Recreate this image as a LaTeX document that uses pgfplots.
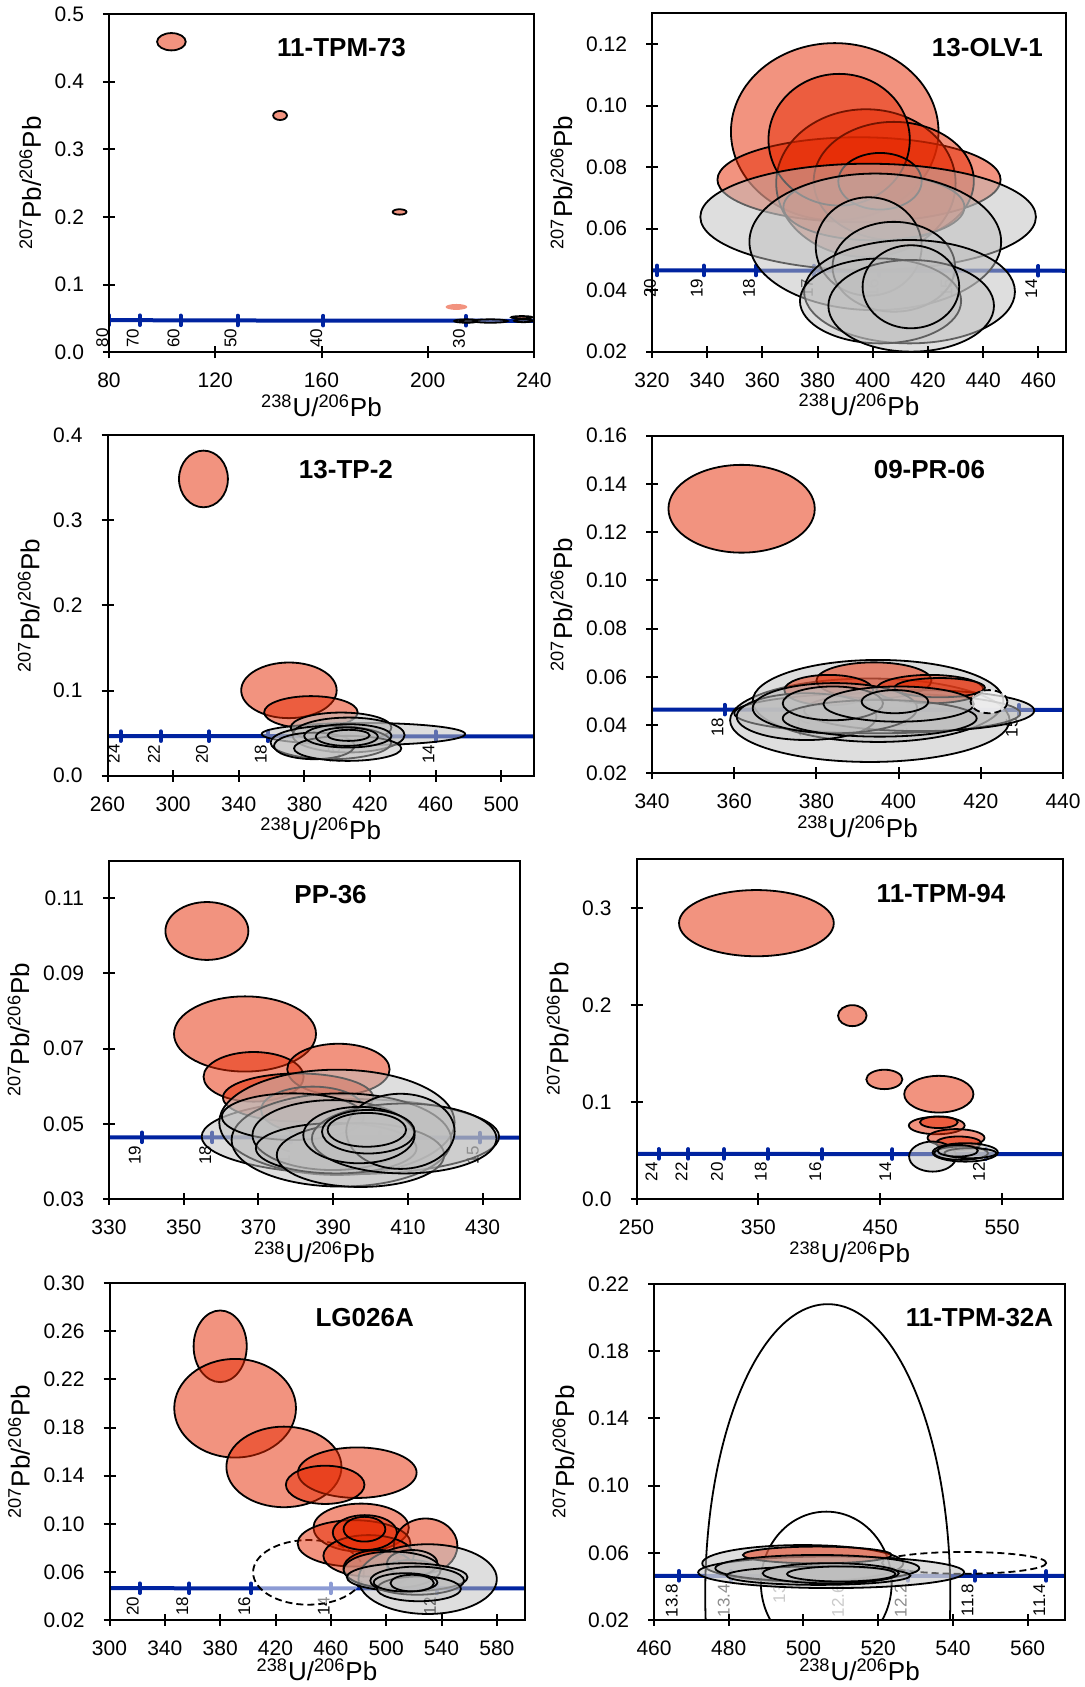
\documentclass[border=0pt]{standalone}
\usepackage{fontspec}
\setmainfont{Liberation Sans}
\usepackage{pgfplots}
\usepackage{pgfplotstable}
\pgfplotsset{compat=1.18}

\definecolor{ellred}{RGB}{230,40,0}
\definecolor{ellgrey}{RGB}{190,190,190}
\definecolor{concblue}{RGB}{0,35,160}

\tikzset{
  ell1/.style={draw=black, line width=0.9pt, fill=ellred, fill opacity=0.5},
  ell2/.style={draw=black, line width=0.9pt, fill=ellgrey, fill opacity=0.5},
  ell3/.style={draw=black, line width=0.9pt, fill=white, fill opacity=0.55},
  ell4/.style={draw=black, line width=0.9pt, dash pattern=on 3.5pt off 2pt, fill=white, fill opacity=0.55},
  ell5/.style={draw=black, line width=0.9pt, dash pattern=on 3.5pt off 2pt, fill=white, fill opacity=0.7},
  ell6/.style={draw=black, line width=0.9pt, dash pattern=on 3.5pt off 2pt},
  ell7/.style={draw=none, fill=ellred, fill opacity=0.5},
  agelabel/.style={font=\fontsize{8.5}{10}\selectfont, rotate=90, anchor=east, inner sep=0pt},
  ttl/.style={font=\bfseries\fontsize{13}{15}\selectfont, anchor=base},
}

% Concordia curve (238U/206Pb, 207Pb/206Pb)
\pgfplotstableread{
x y
63.97 0.04802
80.08 0.04761
91.59 0.04741
106.94 0.04721
128.43 0.04702
160.66 0.04682
214.38 0.04662
268.10 0.04651
292.52 0.04647
321.82 0.04643
338.78 0.04641
357.64 0.04639
378.70 0.04637
402.40 0.04635
429.26 0.04633
459.96 0.04631
466.63 0.04631
480.57 0.04630
495.37 0.04630
511.12 0.04629
527.89 0.04628
536.70 0.04628
545.80 0.04627
564.97 0.04627
644.10 0.04624
}\conc

% age marks
\pgfplotstableread{
x y lab
80.08 0.04761 80
91.59 0.04741 70
106.94 0.04721 60
128.43 0.04702 50
160.66 0.04682 40
214.38 0.04662 30
}\ageA
\pgfplotstableread{
x y lab
321.82 0.04643 20
338.78 0.04641 19
357.64 0.04639 18
378.70 0.04637 17
402.40 0.04635 16
429.26 0.04633 15
459.96 0.04631 14
}\ageB
\pgfplotstableread{
x y lab
268.10 0.04651 24
292.52 0.04647 22
321.82 0.04643 20
357.64 0.04639 18
402.40 0.04635 16
459.96 0.04631 14
}\ageC
\pgfplotstableread{
x y lab
357.64 0.04639 18
378.70 0.04637 17
402.40 0.04635 16
429.26 0.04633 15
}\ageD
\pgfplotstableread{
x y lab
338.78 0.04641 19
357.64 0.04639 18
378.70 0.04637 17
402.40 0.04635 16
429.26 0.04633 15
}\ageE
\pgfplotstableread{
x y lab
268.10 0.04651 24
292.52 0.04647 22
321.82 0.04643 20
357.64 0.04639 18
402.40 0.04635 16
459.96 0.04631 14
536.70 0.04628 12
}\ageF
\pgfplotstableread{
x y lab
321.82 0.04643 20
357.64 0.04639 18
402.40 0.04635 16
459.96 0.04631 14
536.70 0.04628 12
}\ageG
\pgfplotstableread{
x y lab
466.63 0.04631 13.8
480.57 0.04630 13.4
495.37 0.04630 13
511.12 0.04629 12.6
527.89 0.04628 12.2
545.80 0.04627 11.8
564.97 0.04627 11.4
}\ageH

% error ellipses: centre x, centre y, radius x, radius y, type
\pgfplotstableread{
x y rx ry t
103.5 0.459 5.4 0.0128 1
144.4 0.350 2.6 0.0067 1
189.4 0.2074 2.6 0.004 1
210.8 0.067 4.1 0.0044 7
235.4 0.0517 4.0 0.0018 1
214.5 0.0462 4.5 0.0025 2
215.5 0.0462 3.5 0.002 2
223.6 0.0462 6.5 0.0025 2
236.0 0.0465 3.5 0.002 2
}\ellA
\pgfplotstableread{
x y rx ry t
386.2 0.0915 37.6 0.0288 1
395.0 0.0759 51.3 0.0138 1
397.5 0.0748 32.5 0.0240 1
407.6 0.0755 29.0 0.0192 1
400.4 0.0670 32.8 0.0108 1
387.8 0.0889 25.6 0.0214 1
402.6 0.0754 15.1 0.0092 1
398.3 0.0638 60.8 0.0173 2
400.9 0.0557 45.6 0.0222 2
398.5 0.0542 19.2 0.0160 2
407.6 0.0476 22.2 0.0146 2
413.3 0.0395 38.2 0.0168 2
402.8 0.0365 29.2 0.0138 2
413.9 0.0349 30.0 0.0149 2
413.8 0.0411 17.5 0.0135 2
}\ellB
\pgfplotstableread{
x y rx ry t
318.5 0.3487 14.9 0.0333 1
370.6 0.1003 29.1 0.0327 1
384.0 0.0745 28.5 0.0190 1
416.0 0.0490 62.0 0.0130 2
402.4 0.0566 30.7 0.0176 2
406.9 0.0478 34.2 0.0205 2
396.2 0.0390 36.8 0.0196 2
386.0 0.0350 24.5 0.0156 2
406.4 0.0321 32.7 0.0147 2
406.5 0.0468 26.6 0.0137 2
405.9 0.0458 18.9 0.0108 2
407.0 0.0474 12.8 0.0065 2
}\ellC
\pgfplotstableread{
x y rx ry t
361.8 0.1297 17.8 0.0182 1
393.0 0.0420 34.0 0.0173 2
395.0 0.0500 30.5 0.0170 2
394.8 0.0449 34.8 0.0083 2
405.0 0.0460 28.0 0.0085 2
394.0 0.0585 14.0 0.0075 1
383.0 0.0545 10.8 0.0063 1
407.6 0.0549 13.0 0.0059 1
410.0 0.0555 11.0 0.0040 1
377.6 0.0435 17.0 0.0097 2
384.5 0.0470 20.0 0.0104 2
395.4 0.0428 23.6 0.0076 2
384.0 0.0490 12.2 0.0070 2
400.0 0.0487 18.3 0.0073 2
399.1 0.0497 8.1 0.0048 2
422.0 0.0497 4.5 0.0048 5
}\ellD
\pgfplotstableread{
x y rx ry t
356.2 0.1013 11.1 0.0077 1
366.4 0.0739 19.0 0.0100 1
368.7 0.0625 13.4 0.0066 1
391.4 0.0645 13.7 0.0068 1
394.6 0.0466 39.8 0.0100 2
380.6 0.0570 20.1 0.0064 1
384.5 0.0537 13.8 0.0062 1
391.0 0.0504 31.5 0.0140 2
392.2 0.0457 29.4 0.0124 2
379.2 0.0519 19.0 0.0062 2
389.9 0.0470 21.5 0.0093 2
390.8 0.0435 21.5 0.0067 2
397.3 0.0417 22.4 0.0085 2
409.0 0.0461 24.7 0.0093 2
408.0 0.0480 14.5 0.0100 2
396.9 0.0470 14.9 0.0075 2
399.4 0.0479 12.4 0.0058 2
399.0 0.0484 10.5 0.0045 2
}\ellE
\pgfplotstableread{
x y rx ry t
348.4 0.2842 63.5 0.0341 1
427.1 0.1889 11.7 0.0108 1
453.4 0.1232 14.8 0.0100 1
498.1 0.1080 28.4 0.0189 1
496.4 0.0757 22.9 0.0090 1
498.1 0.0791 15.5 0.0060 1
512.2 0.0630 23.4 0.0090 1
514.3 0.0575 18.6 0.0069 1
493.0 0.0437 19.3 0.0155 2
519.8 0.0480 26.8 0.0095 2
516.4 0.0472 22.0 0.0069 2
524.0 0.0472 21.3 0.0052 2
513.6 0.0497 16.5 0.0060 2
}\ellF
\pgfplotstableread{
x y rx ry t
443.8 0.0596 40.0 0.0269 4
380.0 0.2476 19.2 0.0298 1
390.8 0.1961 44.0 0.0410 1
426.1 0.1473 41.6 0.0335 1
479.1 0.1425 42.9 0.0210 1
455.9 0.1324 28.4 0.0159 1
481.9 0.0968 34.5 0.0200 1
476.8 0.0837 40.8 0.0193 1
528.5 0.0817 23.0 0.0227 1
487.3 0.0734 32.7 0.0172 1
494.6 0.0631 25.4 0.0151 1
517.6 0.0637 17.0 0.0062 1
484.6 0.0927 23.2 0.0145 1
484.3 0.0955 15.1 0.0103 1
530.0 0.0540 50.0 0.0290 2
518.8 0.0672 18.2 0.0110 2
504.3 0.0617 35.1 0.0152 2
515.2 0.0555 43.6 0.0117 2
522.4 0.0527 33.9 0.0117 2
523.7 0.0459 30.3 0.0103 2
514.0 0.0513 23.0 0.0076 2
518.8 0.0507 15.7 0.0069 2
}\ellG
\pgfplotstableread{
x y rx ry t
506.5 0.0350 32.8 0.1730 3
506.1 0.0420 17.5 0.0425 3
543.0 0.0540 22.0 0.0065 6
499.8 0.0537 26.9 0.0109 2
507.4 0.0484 35.6 0.0094 2
503.7 0.0587 19.9 0.0050 1
503.7 0.0508 27.3 0.0079 2
504.0 0.0464 24.6 0.0055 2
507.3 0.0478 18.2 0.0060 2
510.1 0.0474 14.5 0.0045 2
}\ellH

\newcommand\drawellipses[1]{%
  \pgfplotstablegetrowsof{#1}%
  \pgfmathtruncatemacro\nrows{\pgfplotsretval-1}%
  \pgfplotsforeachungrouped \rowidx in {0,...,\nrows}{%
    \pgfplotstablegetelem{\rowidx}{x}\of{#1}\let\ex\pgfplotsretval
    \pgfplotstablegetelem{\rowidx}{y}\of{#1}\let\ey\pgfplotsretval
    \pgfplotstablegetelem{\rowidx}{rx}\of{#1}\let\erx\pgfplotsretval
    \pgfplotstablegetelem{\rowidx}{ry}\of{#1}\let\ery\pgfplotsretval
    \pgfplotstablegetelem{\rowidx}{t}\of{#1}\let\et\pgfplotsretval
    \edef\temp{\noexpand\draw[ell\et] (axis cs:\ex,\ey) ellipse [x radius=\erx, y radius=\ery];}%
    \temp
  }%
}
\newcommand\drawconcordia[1]{%
  \addplot[concblue, line width=2pt, no marks] table[x=x,y=y] {\conc};
  \addplot[concblue, only marks, mark=|, mark size=2.4pt, mark options={line width=2pt, line cap=round}] table[x=x,y=y] {#1};
  \pgfplotstablegetrowsof{#1}%
  \pgfmathtruncatemacro\nrows{\pgfplotsretval-1}%
  \pgfplotsforeachungrouped \rowidx in {0,...,\nrows}{%
    \pgfplotstablegetelem{\rowidx}{x}\of{#1}\let\ax\pgfplotsretval
    \pgfplotstablegetelem{\rowidx}{y}\of{#1}\let\ay\pgfplotsretval
    \pgfplotstablegetelem{\rowidx}{lab}\of{#1}\let\al\pgfplotsretval
    \edef\temp{\noexpand\node[agelabel] at ([xshift=-3.5pt,yshift=-4pt]axis cs:\ax,\ay) {\al};}%
    \temp
  }%
}

\pgfplotsset{
  tw/.style={
    scale only axis, anchor=south west, axis on top,
    clip marker paths=true,
    axis line style={line width=1pt},
    every tick/.style={black, line width=1pt},
    tick align=center, major tick length=6pt,
    tick pos=left,
    tick label style={font=\fontsize{10.5}{12}\selectfont},
    /pgf/number format/assume math mode=true,
    label style={font=\fontsize{13}{15}\selectfont},
    xlabel={\textsuperscript{238}U/\textsuperscript{206}Pb},
    ylabel={\textsuperscript{207}Pb/\textsuperscript{206}Pb},
    xticklabel shift=3.8pt, yticklabel shift=6pt,
    xlabel shift=-3.4pt,
    scaled ticks=false,
  },
  p1/.style={yticklabel style={/pgf/number format/.cd, fixed, fixed zerofill, precision=1}},
  p2/.style={yticklabel style={/pgf/number format/.cd, fixed, fixed zerofill, precision=2}},
}

\begin{document}
\begin{tikzpicture}
\useasboundingbox (0,0) rectangle (542pt,843.5pt);

% 11-TPM-73
\begin{axis}[tw, p1, at={(54.5pt,667.35pt)}, width=212.5pt, height=169.15pt,
  xmin=80, xmax=240, ymin=0, ymax=0.5, clip mode=individual,
  xtick={80,120,160,200,240}, ytick={0,0.1,0.2,0.3,0.4,0.5}]
\drawconcordia{\ageA}
\drawellipses{\ellA}
\node[ttl] at ([yshift=-21.5pt]axis description cs:0.547,1) {11-TPM-73};
\end{axis}

% 13-OLV-1
\begin{axis}[tw, p2, at={(326pt,667.65pt)}, width=207pt, height=169.2pt,
  xmin=320, xmax=470, ymin=0.02, ymax=0.13, clip mode=individual,
  xtick={320,340,360,380,400,420,440,460}, ytick={0.02,0.04,0.06,0.08,0.10,0.12}]
\drawconcordia{\ageB}
\drawellipses{\ellB}
\node[ttl] at ([yshift=-21.5pt]axis description cs:0.81,1) {13-OLV-1};
\end{axis}

% 13-TP-2
\begin{axis}[tw, p1, at={(53.75pt,455.65pt)}, width=213.25pt, height=170.2pt,
  xmin=260, xmax=520, ymin=0, ymax=0.4,
  xtick={260,300,340,380,420,460,500}, ytick={0,0.1,0.2,0.3,0.4}]
\drawconcordia{\ageC}
\drawellipses{\ellC}
\node[ttl] at ([yshift=-21.5pt]axis description cs:0.559,1) {13-TP-2};
\end{axis}

% 09-PR-06
\begin{axis}[tw, p2, at={(326pt,456.85pt)}, width=205.5pt, height=168.8pt,
  xmin=340, xmax=440, ymin=0.02, ymax=0.16,
  xtick={340,360,380,400,420,440}, ytick={0.02,0.04,0.06,0.08,0.10,0.12,0.14,0.16}]
\drawconcordia{\ageD}
\drawellipses{\ellD}
\node[ttl] at ([yshift=-21.5pt]axis description cs:0.675,1) {09-PR-06};
\end{axis}

% PP-36
\begin{axis}[tw, p2, at={(54.5pt,244pt)}, width=205.5pt, height=169.15pt,
  xmin=330, xmax=440, ymin=0.03, ymax=0.12,
  xtick={330,350,370,390,410,430}, ytick={0.03,0.05,0.07,0.09,0.11}]
\drawconcordia{\ageE}
\drawellipses{\ellE}
\node[ttl] at ([yshift=-21.5pt]axis description cs:0.539,1) {PP-36};
\end{axis}

% 11-TPM-94
\begin{axis}[tw, p1, at={(318.25pt,244pt)}, width=213.25pt, height=169.85pt,
  xmin=250, xmax=600, ymin=0, ymax=0.35,
  xtick={250,350,450,550}, ytick={0,0.1,0.2,0.3}]
\drawconcordia{\ageF}
\drawellipses{\ellF}
\node[ttl] at ([yshift=-21.5pt]axis description cs:0.714,1) {11-TPM-94};
\end{axis}

% LG026A
\begin{axis}[tw, p2, at={(54.75pt,33.5pt)}, width=207.5pt, height=168.35pt,
  xlabel shift=-5pt,
  xmin=300, xmax=600, ymin=0.02, ymax=0.30,
  xtick={300,340,380,420,460,500,540,580}, ytick={0.02,0.06,0.10,0.14,0.18,0.22,0.26,0.30}]
\drawconcordia{\ageG}
\drawellipses{\ellG}
\node[ttl] at ([yshift=-21.5pt]axis description cs:0.615,1) {LG026A};
\end{axis}

% 11-TPM-32A
\begin{axis}[tw, p2, at={(327pt,33.5pt)}, width=205.5pt, height=168pt,
  xlabel shift=-5pt,
  xmin=460, xmax=570, ymin=0.02, ymax=0.22,
  xtick={460,480,500,520,540,560}, ytick={0.02,0.06,0.10,0.14,0.18,0.22}]
\drawconcordia{\ageH}
\drawellipses{\ellH}
\node[ttl] at ([yshift=-21.5pt]axis description cs:0.792,1) {11-TPM-32A};
\end{axis}
\end{tikzpicture}
\end{document}
